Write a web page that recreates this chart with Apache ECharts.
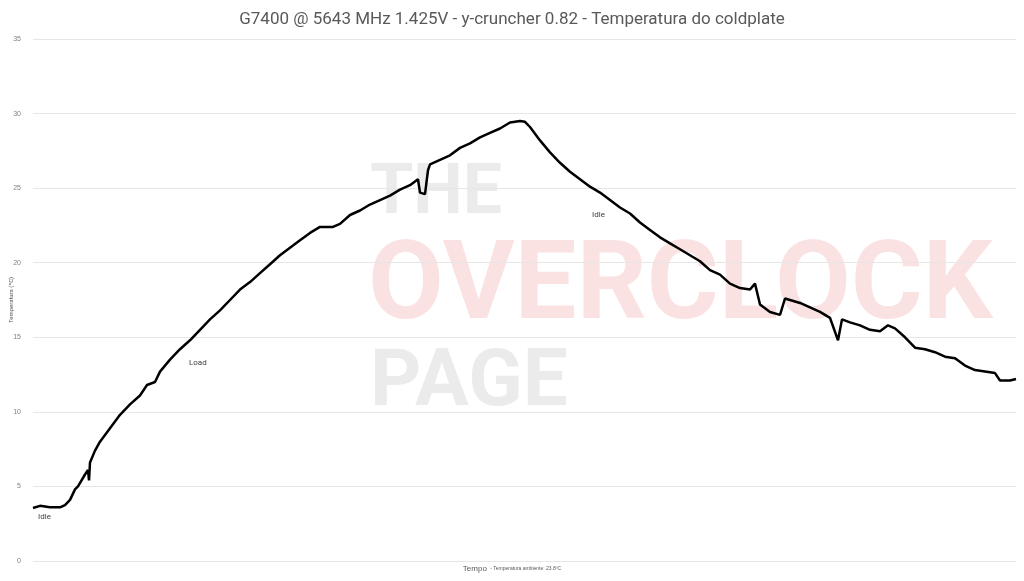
<!DOCTYPE html>
<html><head><meta charset="utf-8">
<script src="https://cdn.jsdelivr.net/npm/echarts@6.0.0/dist/echarts.min.js"></script>
<style>html,body{margin:0;padding:0;background:#fff}#c{width:1024px;height:581px}</style>
</head><body><div id="c"></div>
<script>
// tempo (amostras) e temperatura do coldplate (ºC)
const tempo = [0,7,17,27,32,37,42,45,47,52,55,56,57,62,67,77,87,97,107,114,122,127,137,147,157,167,177,187,197,207,217,227,237,247,257,267,277,287,300,307,317,327,337,347,357,367,377,385,387,392,395,397,407,417,427,437,447,457,467,477,487,492,497,507,517,527,537,547,557,567,577,587,597,607,617,627,637,647,657,667,677,687,697,707,717,722,727,737,747,752,757,767,777,787,797,805,809,817,827,837,847,855,862,872,882,892,902,912,922,932,942,952,962,967,977,983]
const temp = [3.55,3.7,3.6,3.6,3.75,4.1,4.8,5.0,5.1,5.8,6.1,5.4,6.6,7.4,8.0,8.9,9.8,10.5,11.1,11.8,12.0,12.7,13.5,14.2,14.8,15.5,16.2,16.8,17.5,18.2,18.7,19.3,19.9,20.5,21.0,21.5,22.0,22.4,22.4,22.6,23.2,23.5,23.9,24.2,24.5,24.9,25.2,25.6,24.7,24.6,26.2,26.6,26.9,27.2,27.7,28.0,28.4,28.7,29.0,29.4,29.5,29.45,29.1,28.2,27.4,26.7,26.1,25.6,25.1,24.7,24.2,23.7,23.3,22.7,22.2,21.7,21.3,20.9,20.5,20.1,19.5,19.2,18.6,18.3,18.2,18.6,17.2,16.7,16.5,17.6,17.5,17.3,17.0,16.7,16.3,14.8,16.2,16.0,15.8,15.5,15.4,15.8,15.6,15.0,14.3,14.2,14.0,13.7,13.6,13.1,12.8,12.7,12.6,12.1,12.1,12.2]
const yTicks = [0, 35, 5]
const data = tempo.map((t, i) => [t, temp[i]])

const chart = echarts.init(document.getElementById('c'))
chart.setOption({
  animation: false,
  title: { text: 'G7400 @ 5643 MHz 1.425V - y-cruncher 0.82 - Temperatura do coldplate', left: 'center', top: 6,
    textStyle: { fontFamily: 'Roboto', fontSize: 17, fontWeight: 'normal', color: '#595959' } },
  grid: { left: 33, right: 8, top: 39, bottom: 20, outerBoundsMode: 'none' },
  xAxis: { type: 'value', min: 0, max: 983, axisLine: { show: false }, axisTick: { show: false },
    axisLabel: { show: false }, splitLine: { show: false } },
  yAxis: { type: 'value', min: yTicks[0], max: yTicks[1], interval: yTicks[2],
    axisLine: { show: false }, axisTick: { show: false },
    axisLabel: { fontSize: 7, color: '#7f7f7f', margin: 12 },
    splitLine: { lineStyle: { color: '#e6e6e6' } } },
  graphic: [
    { type: 'text', left: 370, top: 160, z: -1, style: { text: 'THE', font: 'bold 70px Roboto', fill: 'rgba(120,120,120,0.15)' } },
    { type: 'text', left: 368, top: 235, z: -1, style: { text: 'OVERCLOCK', font: 'bold 110px Roboto', fill: 'rgba(230,60,60,0.15)' } },
    { type: 'text', left: 370, top: 345, z: -1, style: { text: 'PAGE', font: 'bold 80px Roboto', fill: 'rgba(120,120,120,0.15)' } },
    { type: 'text', x: 11, y: 300, rotation: Math.PI / 2, style: { text: 'Temperatura (ºC)', font: '6px Roboto', fill: '#595959', align: 'center', verticalAlign: 'middle' } },
    { type: 'text', left: 38, top: 513, style: { text: 'Idle', font: '8px Roboto', fill: '#404040' } },
    { type: 'text', left: 189, top: 359, style: { text: 'Load', font: '8px Roboto', fill: '#404040' } },
    { type: 'text', left: 592, top: 211, style: { text: 'Idle', font: '8px Roboto', fill: '#404040' } },
    { type: 'text', left: 'center', top: 563, style: { rich: { a: { fontSize: 8, fill: '#595959' }, b: { fontSize: 5, fill: '#595959' } },
      text: '{a|Tempo} {b|- Temperatura ambiente: 23.8ºC}' } }
  ],
  series: [{ type: 'line', data, symbol: 'none', lineStyle: { color: '#000', width: 2.5, join: 'bevel' } }]
})
</script></body></html>
